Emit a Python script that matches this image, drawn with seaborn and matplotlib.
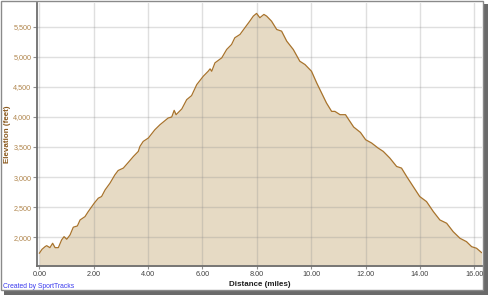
import matplotlib
matplotlib.use("Agg")
import matplotlib.pyplot as plt
import seaborn as sns
import pandas as pd
from matplotlib.patches import Rectangle
from matplotlib.ticker import FuncFormatter

distance = [0.00, 0.10, 0.21, 0.27, 0.39, 0.49, 0.58, 0.70, 0.82, 0.91, 1.01, 1.13, 1.25, 1.40,
            1.50, 1.68, 1.80, 2.02, 2.17, 2.29, 2.42, 2.60, 2.78, 2.90, 3.09, 3.27, 3.46, 3.64,
            3.70, 3.82, 4.01, 4.25, 4.44, 4.74, 4.87, 4.96, 5.03, 5.24, 5.42, 5.60, 5.79, 6.03,
            6.21, 6.28, 6.34, 6.46, 6.71, 6.89, 7.07, 7.19, 7.38, 7.56, 7.74, 7.87, 7.99, 8.11,
            8.26, 8.36, 8.54, 8.73, 8.91, 9.10, 9.34, 9.58, 9.77, 10.01, 10.20, 10.38, 10.56,
            10.75, 10.87, 11.06, 11.26, 11.38, 11.56, 11.81, 12.00, 12.22, 12.46, 12.65, 12.89,
            13.14, 13.32, 13.51, 13.75, 13.99, 14.24, 14.49, 14.73, 14.98, 15.22, 15.47, 15.71,
            15.90, 16.08, 16.27]
elevation = [1733, 1800, 1843, 1860, 1827, 1900, 1827, 1827, 1955, 2010, 1967, 2038, 2167, 2188,
             2288, 2343, 2427, 2567, 2650, 2677, 2788, 2900, 3038, 3110, 3150, 3243, 3343, 3427,
             3510, 3593, 3650, 3788, 3872, 3983, 4000, 4110, 4038, 4133, 4288, 4355, 4538, 4677,
             4760, 4800, 4760, 4900, 4983, 5122, 5205, 5317, 5372, 5483, 5593, 5677, 5722, 5650,
             5705, 5677, 5593, 5455, 5427, 5260, 5122, 4927, 4872, 4760, 4567, 4400, 4233,
             4093, 4093, 4038, 4038, 3955, 3833, 3743, 3622, 3567, 3483, 3427, 3317,
             3177, 3150, 3010, 2843, 2677, 2593, 2427, 2288, 2233, 2093, 1983, 1927,
             1843, 1817, 1743]
x_ticks = [0, 2, 4, 6, 8, 10, 12, 14, 16]
y_ticks = [2000, 2500, 3000, 3500, 4000, 4500, 5000, 5500]

df = pd.DataFrame({"Distance (miles)": distance, "Elevation (feet)": elevation})

sns.set_theme(style="white")
plt.rcParams["font.family"] = ["Liberation Sans", "DejaVu Sans"]

W, H = 489, 295
fig = plt.figure(figsize=(W / 100, H / 100), dpi=100)
fig.patch.set_facecolor("white")

# frame and shadow
fig.add_artist(Rectangle((4 / W, 0), 484 / W, 5 / H, transform=fig.transFigure,
                         facecolor="#6a6a6a", edgecolor="none", zorder=0))
fig.add_artist(Rectangle((483 / W, 0), 5 / W, 291 / H, transform=fig.transFigure,
                         facecolor="#6a6a6a", edgecolor="none", zorder=0))
fig.add_artist(Rectangle((0.5 / W, 5 / H), 482.5 / W, 289.5 / H, transform=fig.transFigure,
                         facecolor="white", edgecolor="#8a8a8a", linewidth=1.0, zorder=0))

ax = fig.add_axes([37 / W, (H - 265.7) / H, (482 - 37) / W, (265.7 - 3) / H])
ax.set_facecolor("none")

ax.fill_between(df["Distance (miles)"], df["Elevation (feet)"], 1000,
                color="#e6dac4", linewidth=0, zorder=1)
sns.lineplot(data=df, x="Distance (miles)", y="Elevation (feet)", ax=ax,
             color="#a8732c", linewidth=0.9, zorder=3)

ax.set_xlim(-0.085, 16.28)
ax.set_ylim(1527, 5895)
ax.set_xticks(x_ticks)
ax.set_yticks(y_ticks)
ax.xaxis.set_major_formatter(FuncFormatter(lambda v, p: f"{v:.2f}"))
ax.yaxis.set_major_formatter(FuncFormatter(lambda v, p: f"{int(v):,}"))

ax.set_axisbelow(False)
ax.grid(True, color="#8c8c8c", alpha=0.28, linewidth=1.0, zorder=2)

for s in ["top", "right"]:
    ax.spines[s].set_visible(False)
for s in ["left", "bottom"]:
    ax.spines[s].set_color("#6e6e6e")
    ax.spines[s].set_linewidth(1.3)
    ax.spines[s].set_zorder(4)

ax.tick_params(axis="y", length=3, width=0.8, color="#909090", pad=1.0,
               labelsize=5.2, labelcolor="#b0854c", left=True)
ax.tick_params(axis="x", length=2, width=0.8, color="#909090", pad=1.5,
               labelsize=5.2, labelcolor="#404040", bottom=True)

ax.set_xlabel("Distance (miles)", fontsize=5.8, fontweight="bold", color="#202020")
ax.set_ylabel("Elevation (feet)", fontsize=5.8, fontweight="bold", color="#8b5a1e")
ax.xaxis.set_label_coords(0.5, -0.06)
ax.yaxis.set_label_coords(-0.059, 0.5)

fig.text(3 / W, (H - 286.5) / H, "Created by SportTracks", fontsize=4.9, color="#3a3aee",
         ha="left", va="center")

fig.savefig("out.png", dpi=100)
